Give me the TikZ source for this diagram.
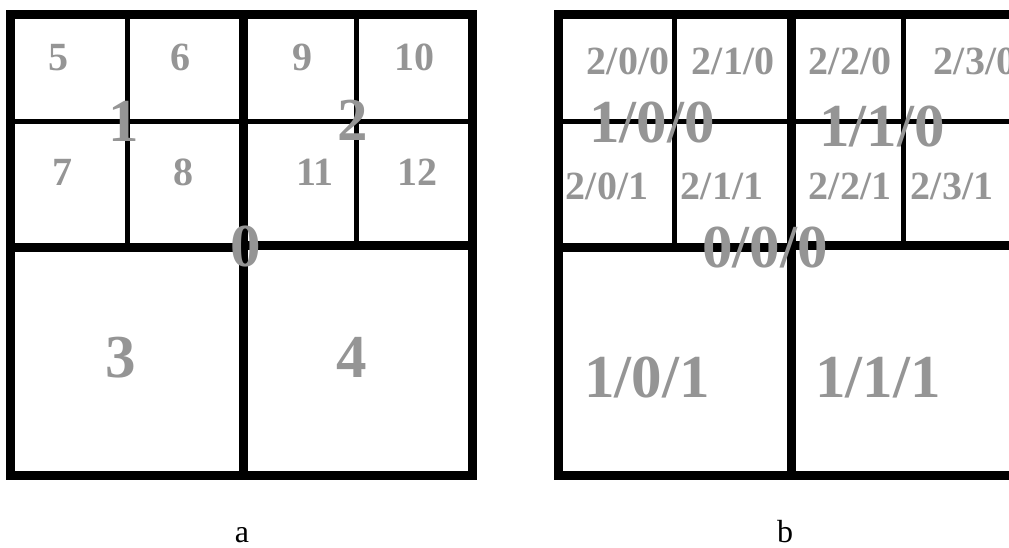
\documentclass[tikz,border=0pt]{standalone}
\usepackage{fontspec}
\setmainfont{Liberation Serif}
\definecolor{lbl}{HTML}{959595}
\tikzset{
  thickln/.style={line width=9pt, line cap=rect},
  thinln/.style={line width=5pt},
  small/.style={anchor=base, inner sep=0pt, text=lbl, font=\fontsize{40}{40}\selectfont\bfseries},
  big/.style={anchor=base, inner sep=0pt, text=lbl, font=\fontsize{61}{61}\selectfont\bfseries},
  captext/.style={anchor=base, inner sep=0pt, text depth=0pt, font=\fontsize{32}{32}\selectfont}
}
\begin{document}
\begin{tikzpicture}[x=1pt,y=-1pt]
\useasboundingbox (0,0) rectangle (1009,547);
\clip (0,0) rectangle (1009,547);
% ---------- panel a ----------
\coordinate (aTL) at (10,14);
\coordinate (aBR) at (472,475);
\draw[thinln] (127,14) -- (127,251);
\draw[thinln] (356,14) -- (356,246);
\draw[thinln] (10,121) -- (472,121);
\draw[thickln] (aTL) rectangle (aBR);
\draw[thickln] (243,14) -- (243,475);
\draw[thickln] (10,247) -- (243,247);
\draw[thickln] (243,245) -- (472,245);
\node[small] (a5) at (58,70) {5};
\node[small] (a6) at (180,70) {6};
\node[small] (a9) at (302,70) {9};
\node[small] (a10) at (414,70) {10};
\node[small] (a7) at (62,185) {7};
\node[small] (a8) at (183,185) {8};
\node[small] (a11) at (315,185) {11};
\node[small] (a12) at (417,185) {12};
\node[big] (a1) at (124,141) {1};
\node[big] (a2) at (353,140) {2};
\node[big] (a0) at (246,266) {0};
\node[big] (a3) at (121,377) {3};
\node[big] (a4) at (352,377) {4};
\node[captext] (capa) at (242,542) {a};
% ---------- panel b ----------
\coordinate (bTL) at (558,14);
\coordinate (bBR) at (1020,475);
\draw[thinln] (674,14) -- (674,251);
\draw[thinln] (903,14) -- (903,246);
\draw[thinln] (558,121) -- (1020,121);
\draw[thickln] (bTL) rectangle (bBR);
\draw[thickln] (791,14) -- (791,475);
\draw[thickln] (558,247) -- (791,247);
\draw[thickln] (791,245) -- (1020,245);
\node[small] (b200) at (628,74) {2/0/0};
\node[small] (b210) at (733,74) {2/1/0};
\node[small] (b220) at (850,74) {2/2/0};
\node[small] (b230) at (975,74) {2/3/0};
\node[small] (b201) at (607,199) {2/0/1};
\node[small] (b211) at (722,199) {2/1/1};
\node[small] (b221) at (850,199) {2/2/1};
\node[small] (b231) at (952,199) {2/3/1};
\node[big] (b100) at (652,142) {1/0/0};
\node[big] (b110) at (882,146) {1/1/0};
\node[big] (b000) at (765,267) {0/0/0};
\node[big] (b101) at (647,397) {1/0/1};
\node[big] (b111) at (878,397) {1/1/1};
\node[captext] (capb) at (785,542) {b};
\end{tikzpicture}
\end{document}
